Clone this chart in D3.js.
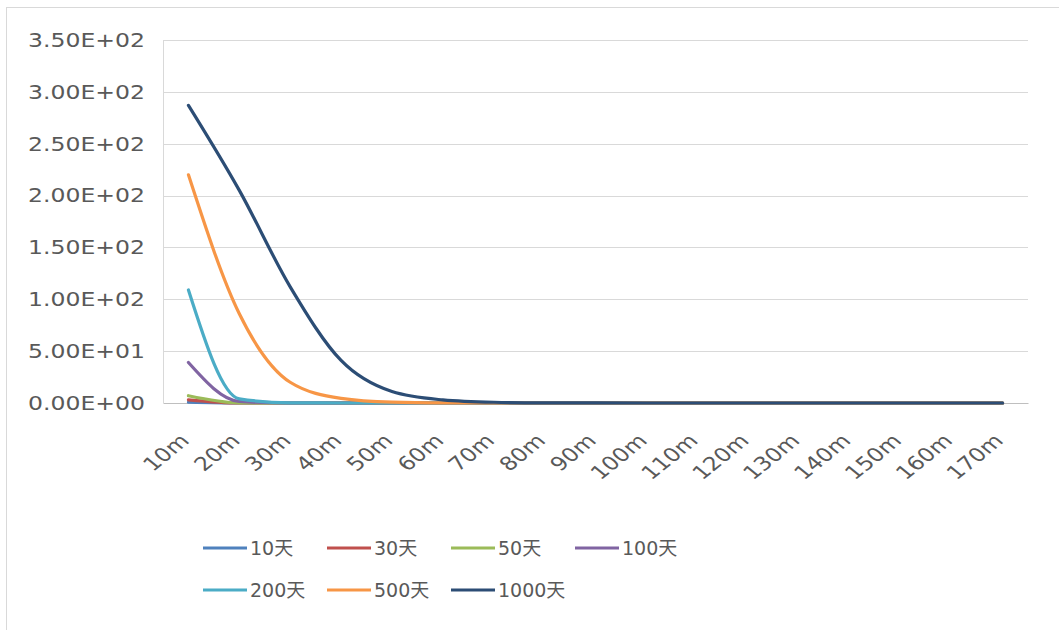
<!DOCTYPE html>
<html><head><meta charset="utf-8">
<script src="https://cdn.jsdelivr.net/npm/d3@7"></script>
<style>
body{margin:0;background:#fff;}
text{font-family:"DejaVu Sans","Noto Sans CJK SC",sans-serif;fill:#595959;}
</style></head>
<body>
<svg id="c" width="1059" height="630"></svg>
<script>
const categories = ["10m","20m","30m","40m","50m","60m","70m","80m","90m","100m","110m","120m","130m","140m","150m","160m","170m"];
const seriesNames = ["10天","30天","50天","100天","200天","500天","1000天"];
const colors = ["#4F81BD","#C0504D","#9BBB59","#8064A2","#4BACC6","#F79646","#2C4D75"];
const s10   = [0.8,0,0,0,0,0,0,0,0,0,0,0,0,0,0,0,0];
const s30   = [3,0.02,0,0,0,0,0,0,0,0,0,0,0,0,0,0,0];
const s50   = [7,0.1,0,0,0,0,0,0,0,0,0,0,0,0,0,0,0];
const s100  = [39,1.5,0.02,0,0,0,0,0,0,0,0,0,0,0,0,0,0];
const s200  = [109,4,0.2,0,0,0,0,0,0,0,0,0,0,0,0,0,0];
const s500  = [220,86,20,4.5,0.8,0.1,0.02,0,0,0,0,0,0,0,0,0,0];
const s1000 = [287,205,112,41,11,3,0.7,0.15,0.03,0,0,0,0,0,0,0,0];
const yTicks = [0,50,100,150,200,250,300,350];
const yTickLabels = ["0.00E+00","5.00E+01","1.00E+02","1.50E+02","2.00E+02","2.50E+02","3.00E+02","3.50E+02"];
const allSeries = [s10,s30,s50,s100,s200,s500,s1000];

const svg = d3.select("#c");
// outer frame (left & top visible)
svg.append("line").attr("x1",6.5).attr("x2",6.5).attr("y1",7).attr("y2",630).attr("stroke","#d9d9d9");
svg.append("line").attr("x1",6).attr("x2",1059).attr("y1",7.5).attr("y2",7.5).attr("stroke","#d9d9d9");

const L=163, R=1028, T=40, B=403;
const SX = 1.24; // horizontal stretch of text in the reference
const x = d3.scaleBand().domain(categories).range([L,R]).padding(0);
const y = d3.scaleLinear().domain([0,350]).range([B,T]);

// gridlines
svg.append("g").selectAll("line").data(yTicks.filter(d=>d>0)).join("line")
  .attr("x1",L).attr("x2",R).attr("y1",d=>Math.round(y(d))+0.5).attr("y2",d=>Math.round(y(d))+0.5)
  .attr("stroke","#d9d9d9").attr("stroke-width",1);
svg.append("line").attr("x1",L+0.5).attr("x2",L+0.5).attr("y1",T).attr("y2",B).attr("stroke","#d9d9d9");

// y axis labels
svg.append("g").selectAll("text").data(yTicks).join("text")
  .attr("transform",d=>`translate(145,${y(d)}) scale(${SX},1)`)
  .attr("text-anchor","end").attr("dy","0.36em").style("font-size","19px")
  .text((d,i)=>yTickLabels[i]);

// x axis
const xAxis = d3.axisBottom(x).tickSize(0).tickPadding(0);
const gx = svg.append("g").attr("transform",`translate(0,${B})`).call(xAxis);
gx.select(".domain").attr("stroke","#bfbfbf");
gx.selectAll(".tick").attr("transform",d=>`translate(${x(d)+x.bandwidth()/2+2},39)`);
gx.selectAll("text").style("font-size","19px").attr("fill","#595959")
  .style("font-family",'"DejaVu Sans","Noto Sans CJK SC",sans-serif')
  .attr("text-anchor","end").attr("dy",null).attr("y",0)
  .attr("transform",`scale(${SX},1) rotate(-45)`);

// lines
const line = d3.line().x((d,i)=>x(categories[i])+x.bandwidth()/2).y(d=>y(d)).curve(d3.curveMonotoneX);
svg.append("g").selectAll("path").data(allSeries).join("path")
  .attr("d",d=>line(d)).attr("fill","none").attr("stroke",(d,i)=>colors[i])
  .attr("stroke-width",3.2).attr("stroke-linejoin","round").attr("stroke-linecap","round");

// legend
const legendPos = [[203,548],[327,548],[451,548],[575,548],[203,590],[327,590],[451,590]];
const lg = svg.append("g").selectAll("g").data(seriesNames).join("g")
  .attr("transform",(d,i)=>`translate(${legendPos[i][0]},${legendPos[i][1]})`);
lg.append("line").attr("x1",0).attr("x2",44).attr("y1",0).attr("y2",0)
  .attr("stroke",(d,i)=>colors[i]).attr("stroke-width",3);
lg.append("text").attr("x",47).attr("y",0).attr("dy","0.36em").style("font-size","19px").text(d=>d);
</script>
</body></html>
